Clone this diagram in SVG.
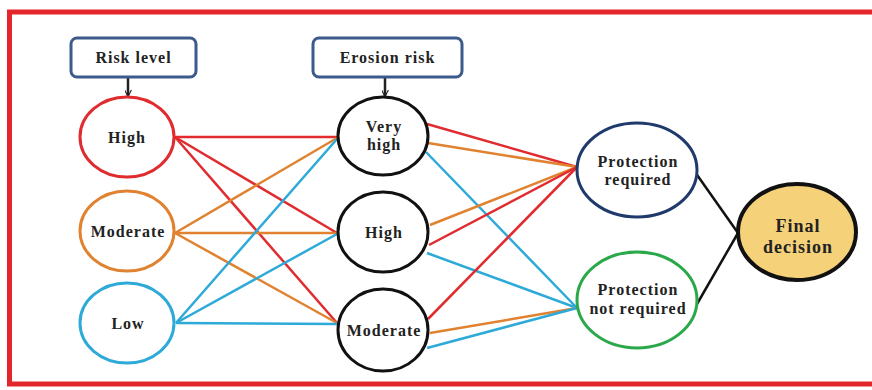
<svg xmlns="http://www.w3.org/2000/svg" width="872" height="390" viewBox="0 0 872 390">
<defs>
<marker id="arr" viewBox="0 0 10 10" refX="9" refY="5" markerWidth="7" markerHeight="7" markerUnits="userSpaceOnUse" orient="auto">
<path d="M0,0 L10,5 L0,10" fill="none" stroke="#222" stroke-width="1.6"/>
</marker>
<style>
text{font-family:"Liberation Serif","Times New Roman",serif;font-weight:bold;font-size:16px;letter-spacing:1px;fill:#222;text-anchor:middle}
.box{fill:#fff;stroke:#3d5a8c;stroke-width:3}
.n{fill:#fff;stroke-width:3}
.c line{stroke-width:2.5}
.r{stroke:#e02b2f}.o{stroke:#e0822f}.b{stroke:#2eaad8}.k{stroke:#111}
</style>
</defs>
<rect width="872" height="390" fill="#fff"/>
<rect x="9.5" y="12" width="875" height="372" fill="none" stroke="#e3262b" stroke-width="5"/>
<g class="c" id="connectors">
<line class="r" x1="175" y1="137" x2="337" y2="137"/>
<line class="r" x1="175" y1="137" x2="337" y2="233"/>
<line class="r" x1="175" y1="137" x2="337" y2="323"/>
<line class="o" x1="175" y1="233" x2="337" y2="138"/>
<line class="o" x1="175" y1="233" x2="337" y2="233"/>
<line class="o" x1="175" y1="233" x2="337" y2="323"/>
<line class="b" x1="176" y1="323" x2="337" y2="139"/>
<line class="b" x1="176" y1="323" x2="337" y2="234"/>
<line class="b" x1="176" y1="323" x2="337" y2="324"/>
<line class="r" x1="427" y1="124" x2="577" y2="167"/>
<line class="o" x1="428" y1="143" x2="577" y2="167"/>
<line class="b" x1="426" y1="152" x2="577" y2="308"/>
<line class="o" x1="430" y1="225" x2="577" y2="167"/>
<line class="r" x1="429" y1="245" x2="577" y2="167"/>
<line class="b" x1="427" y1="253" x2="577" y2="308"/>
<line class="r" x1="428" y1="319" x2="577" y2="167"/>
<line class="o" x1="430" y1="333" x2="577" y2="308"/>
<line class="b" x1="427" y1="348" x2="577" y2="308"/>
<line class="k" x1="695" y1="172" x2="738" y2="233"/>
<line class="k" x1="697" y1="304" x2="738" y2="233"/>
<line stroke="#222" stroke-width="1.3" x1="128" y1="77" x2="128" y2="96" marker-end="url(#arr)"/>
<line stroke="#222" stroke-width="1.3" x1="385" y1="77" x2="385" y2="96" marker-end="url(#arr)"/>
</g>
<g id="risk-level"><rect class="box" x="71" y="38" width="125" height="39" rx="6"/><text x="133.5" y="63">Risk level</text></g>
<g id="erosion-risk"><rect class="box" x="313" y="38" width="149" height="39" rx="6"/><text x="387.5" y="63">Erosion risk</text></g>
<g id="risk-high"><ellipse class="n" cx="127" cy="137" rx="47" ry="40" stroke="#e02b2f"/><text x="127" y="143">High</text></g>
<g id="risk-moderate"><ellipse class="n" cx="127" cy="231" rx="47" ry="40" stroke="#e0822f"/><text x="128" y="237">Moderate</text></g>
<g id="risk-low"><ellipse class="n" cx="127" cy="323" rx="47" ry="40" stroke="#2eaad8"/><text x="128" y="329">Low</text></g>
<g id="erosion-veryhigh"><ellipse class="n" cx="383" cy="136" rx="45" ry="39" stroke="#111"/><text x="384" y="132">Very</text><text x="384" y="150">high</text></g>
<g id="erosion-high"><ellipse class="n" cx="383" cy="232" rx="45" ry="40" stroke="#111"/><text x="384" y="238">High</text></g>
<g id="erosion-moderate"><ellipse class="n" cx="383" cy="330" rx="45" ry="41" stroke="#111"/><text x="384" y="336">Moderate</text></g>
<g id="protection-required"><ellipse class="n" cx="637" cy="170" rx="60" ry="47" stroke="#1f3a6b"/><text x="638" y="167">Protection</text><text x="638" y="185">required</text></g>
<g id="protection-not-required"><ellipse class="n" cx="637" cy="300" rx="60" ry="48" stroke="#2aa84a"/><text x="638" y="295">Protection</text><text x="638" y="314">not required</text></g>
<g id="final-decision"><ellipse cx="797" cy="232" rx="59" ry="48" fill="#f5d27a" stroke="#111" stroke-width="4"/><text x="798" y="232" style="font-size:18px">Final</text><text x="798" y="253" style="font-size:18px">decision</text></g>
</svg>
